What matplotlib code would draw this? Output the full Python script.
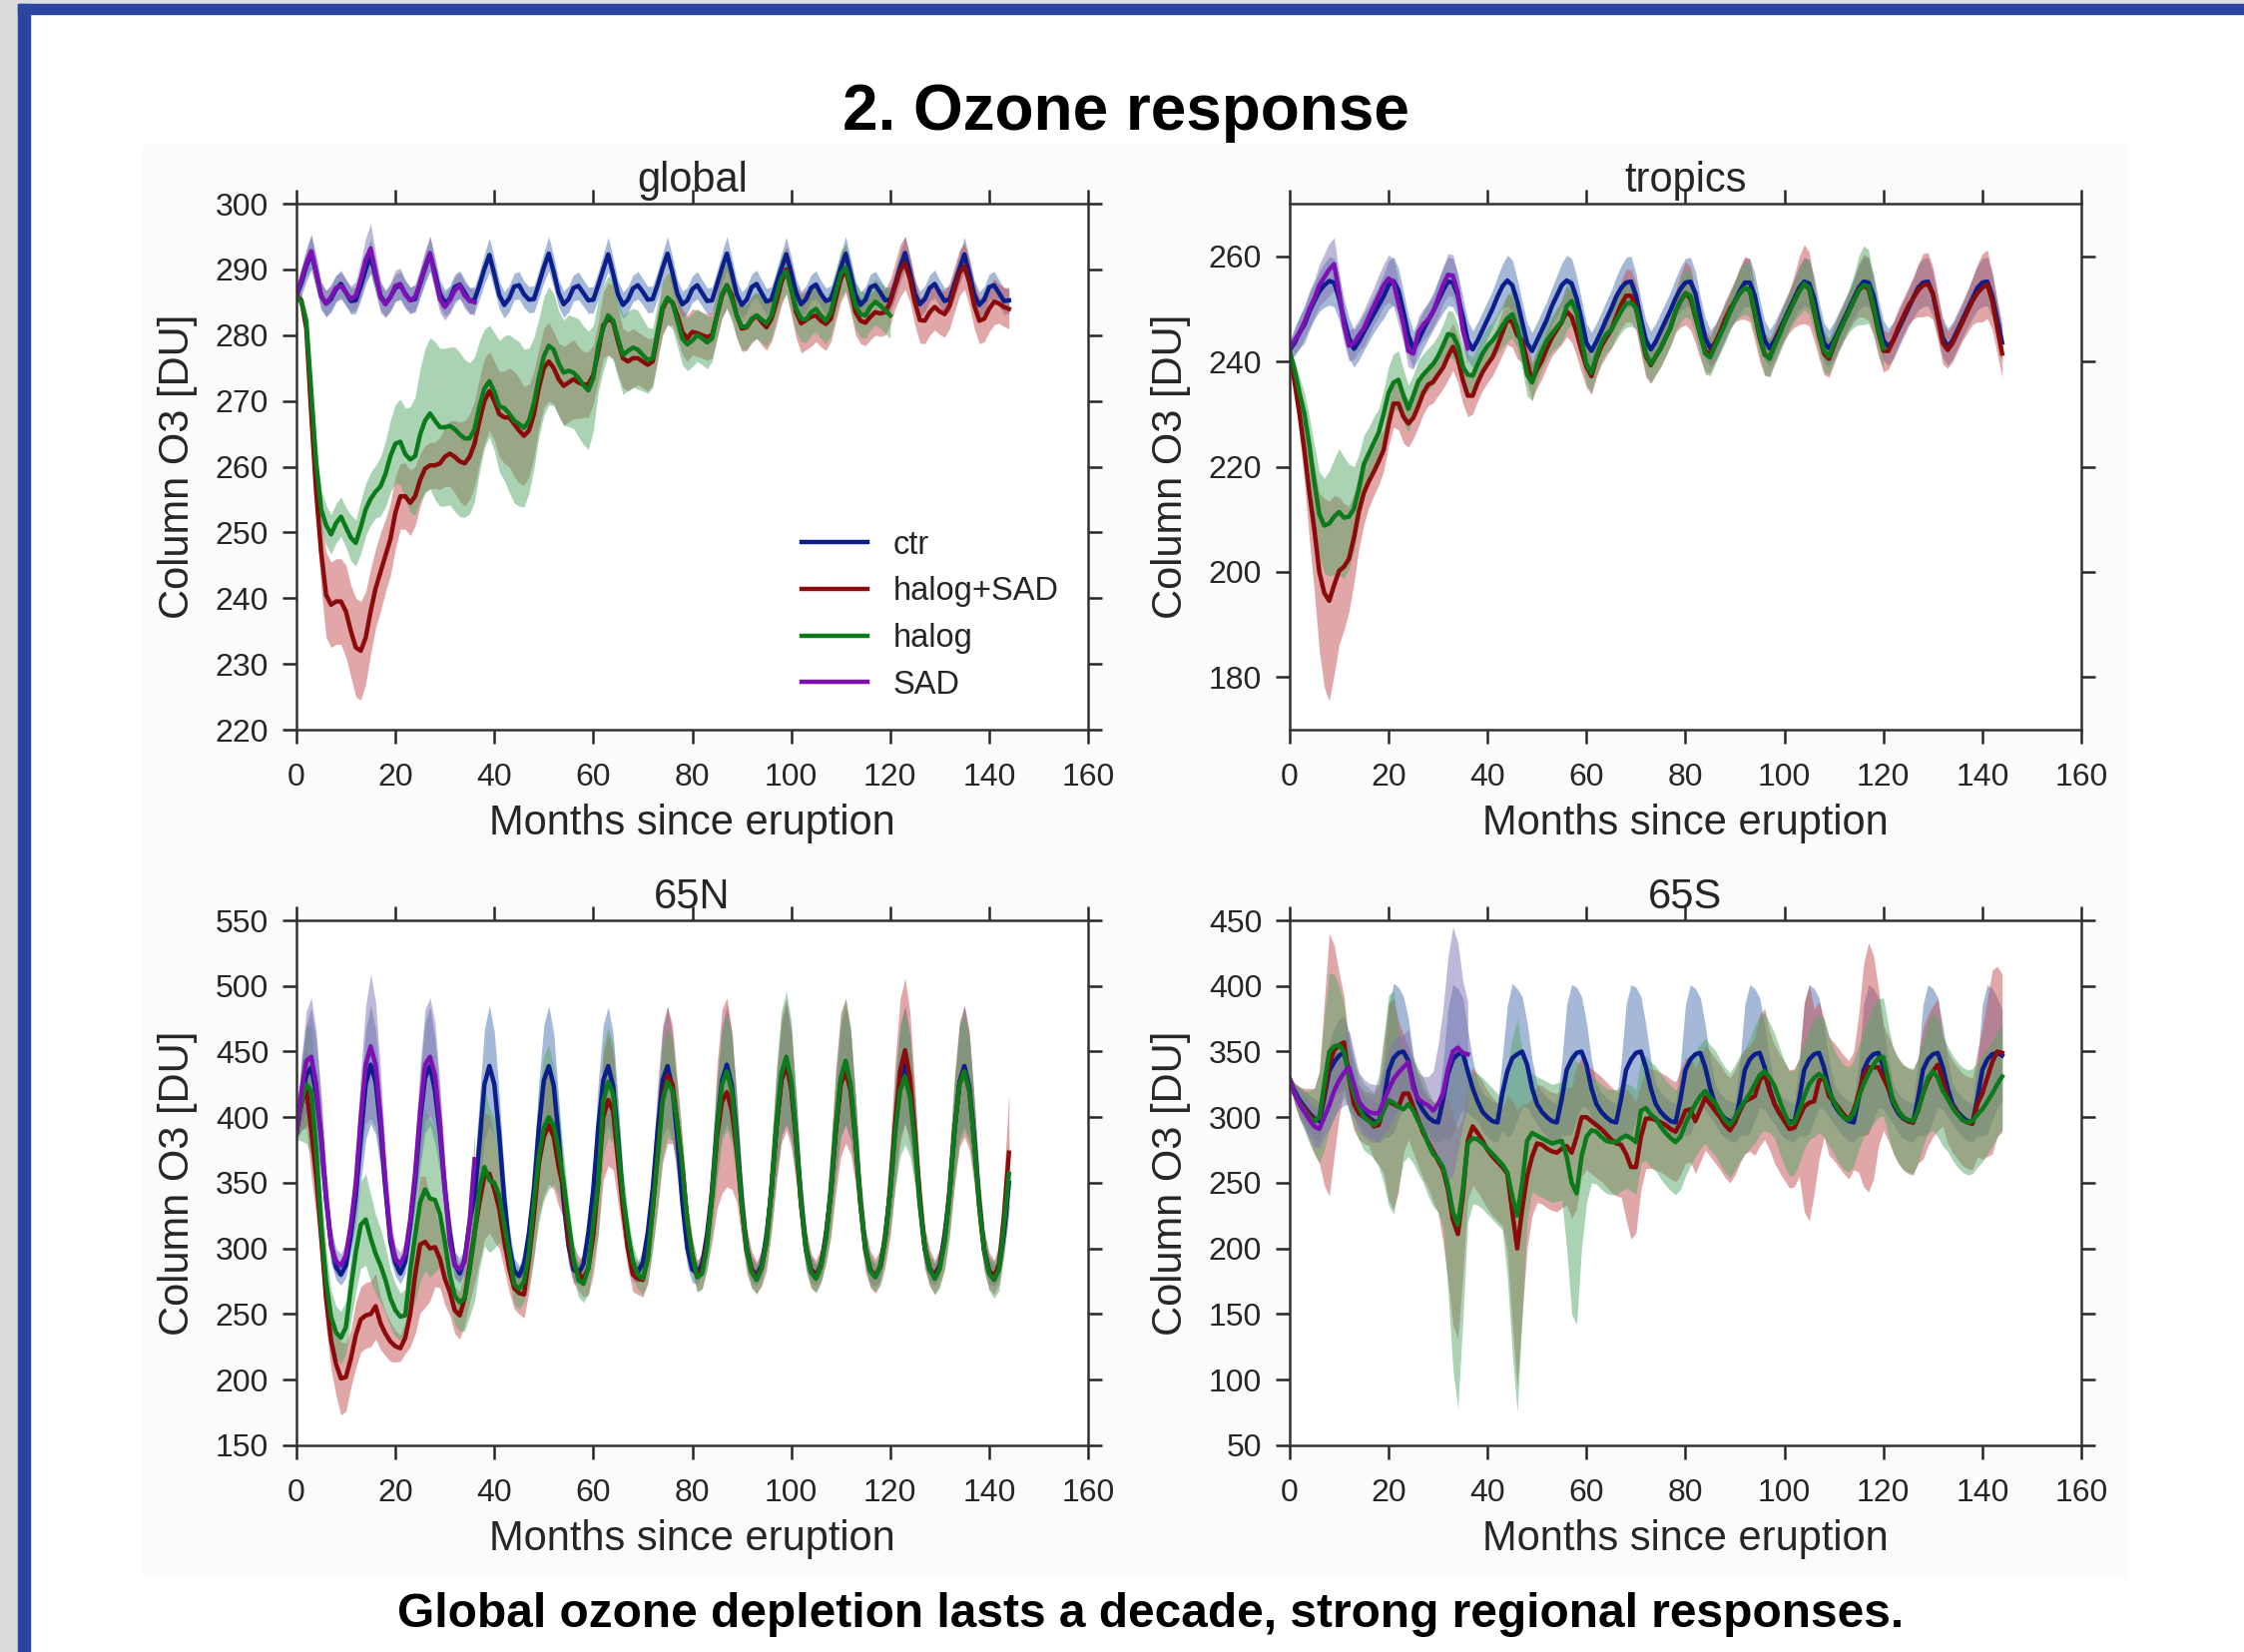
import numpy as np
import matplotlib.pyplot as plt
from matplotlib.patches import Rectangle

plt.rcParams['font.family'] = ['Liberation Sans', 'DejaVu Sans']
plt.rcParams['text.color'] = '#262626'
plt.rcParams['axes.labelcolor'] = '#262626'

# ---------------- data (monthly, month 0 = eruption) ----------------
# global
glob_ctr = [
    286, 288, 290.5, 292.5, 289.5, 286, 284.8, 285.5, 287, 287.8, 286.5, 285.2,
    285.3, 287.5, 290, 292, 289, 286, 284.8, 285.8, 287.2, 287.6, 286.3, 285.3,
    285.5, 287.8, 290.2, 292.3, 289.5, 286.3, 284.9, 285.5, 287.3, 287.7, 286.5, 285.2,
    285.4, 287.6, 290.1, 292.2, 289.3, 286.1, 284.6, 285.6, 287.4, 287.6, 286.2, 285.4,
    285.5, 287.8, 290.3, 292.4, 289.6, 286.4, 284.7, 285.5, 287.2, 287.5, 286.4, 285.3,
    285.4, 287.6, 290, 292.3, 289.4, 286.2, 284.6, 285.4, 287.1, 287.6, 286.6, 285.4,
    285.5, 287.7, 290.2, 292.4, 289.5, 286.3, 284.7, 285.3, 287, 287.6, 286.4, 285.2,
    285.3, 287.7, 290.2, 292.4, 289.4, 286.2, 284.6, 285.4, 287.3, 287.8, 286.4, 285.1,
    285.4, 287.8, 290.1, 292.3, 289.5, 286.4, 284.7, 285.5, 287.2, 287.7, 286.3, 285.2,
    285.5, 287.6, 290.2, 292.4, 289.3, 286.1, 284.6, 285.4, 287.3, 287.6, 286.5, 285.3,
    285.4, 287.7, 290.3, 292.5, 289.6, 286.3, 284.7, 285.5, 287.2, 287.8, 286.4, 285.2,
    285.5, 287.8, 290.1, 292.3, 289.4, 286.2, 284.6, 285.4, 287.3, 287.6, 286.4, 285.2,
    285.3]
glob_ctr_sd = [
    1.5, 2, 2.3, 2.6, 2.4, 2.1, 2, 2, 2, 2.1, 2, 2,
    2, 2.1, 2.3, 2.6, 2.4, 2.1, 2, 2, 2, 2.1, 2, 2,
    2, 2.1, 2.3, 2.6, 2.4, 2.1, 2, 2, 2, 2.1, 2, 2,
    2, 2.1, 2.3, 2.6, 2.4, 2.1, 2, 2, 2, 2.1, 2, 2,
    2, 2.1, 2.3, 2.6, 2.4, 2.1, 2, 2, 2, 2.1, 2, 2,
    2, 2.1, 2.3, 2.6, 2.4, 2.1, 2, 2, 2, 2.1, 2, 2,
    2, 2.1, 2.3, 2.6, 2.4, 2.1, 2, 2, 2, 2.1, 2, 2,
    2, 2.1, 2.3, 2.6, 2.4, 2.1, 2, 2, 2, 2.1, 2, 2,
    2, 2.1, 2.3, 2.6, 2.4, 2.1, 2, 2, 2, 2.1, 2, 2,
    2, 2.1, 2.3, 2.6, 2.4, 2.1, 2, 2, 2, 2.1, 2, 2,
    2, 2.1, 2.3, 2.6, 2.4, 2.1, 2, 2, 2, 2.1, 2, 2,
    2, 2.1, 2.3, 2.6, 2.4, 2.1, 2, 2, 2, 2.1, 2, 2,
    2]
glob_hs = [
    286, 285.3, 281, 268, 256, 247, 240.5, 239, 239.5, 239.5, 238, 235,
    232.5, 232, 234, 238, 241.5, 244, 246.5, 249, 253, 255.5, 255.5, 254.5,
    255.5, 258, 259.7, 260.2, 260.2, 260.5, 261.5, 262, 261.5, 260.8, 260.5, 261.5,
    263.5, 267, 270, 271.5, 270, 268, 267.5, 267.5, 266.5, 265.5, 264.7, 265.5,
    268, 272, 275, 276, 275, 273.3, 272.3, 272.8, 273.3, 272.8, 272.5, 272.5,
    274, 277.5, 281.5, 282.5, 282, 279, 276.5, 276, 276.5, 276.5, 276, 275.5,
    276, 280, 284, 285.5, 285, 283, 280.5, 279.5, 280.5, 280.3, 280, 279.7,
    280, 283, 286, 287.6, 286, 283, 281, 281.2, 282.3, 283, 282, 281.2,
    282.5, 285, 288, 290, 287, 283.5, 281.8, 282.3, 282.8, 283, 282.2, 281.7,
    282.5, 285.5, 288.5, 290, 287, 283.5, 282.2, 281.9, 282.8, 283.5, 283.3, 283.5,
    285, 287.5, 289.8, 291, 288.5, 285, 282.3, 282.2, 283.5, 284.3, 283.6, 283.2,
    284.5, 287, 289.5, 290.5, 288, 284.5, 282.2, 282.5, 284, 285.1, 284.8, 284.3,
    284]
glob_hs_sd = [
    0.5, 1, 2, 3, 4, 5.5, 6.5, 6.5, 6.5, 6.5, 7, 7,
    7.5, 7.5, 7, 6.5, 6, 6, 5.5, 5.5, 5.5, 5, 5, 5,
    4.5, 4, 3.5, 3.5, 3.5, 4, 4.5, 5, 5.5, 6, 6.5, 6.5,
    6.5, 6.5, 6.5, 6, 6, 6.5, 7, 7.5, 8, 8, 7.5, 7,
    6.5, 6, 6, 6, 5.5, 5.5, 6, 6, 6, 5.5, 5, 5,
    4.5, 4.5, 5, 5.5, 5.5, 5, 4.5, 4.5, 4.5, 4, 4, 4,
    3.5, 3.5, 4, 4, 3.5, 3.5, 3.5, 3.5, 3.5, 3.5, 3.5, 3.5,
    3.5, 3.5, 3.5, 3.5, 3.5, 3.5, 3.5, 3.5, 3.5, 3.5, 3.5, 3.5,
    3.5, 3.5, 3.5, 3.5, 4, 4, 4.5, 4.5, 4.5, 4, 4, 4,
    3.5, 3.5, 3.5, 3.5, 3.5, 3.5, 3.5, 3.5, 3.5, 3.5, 3.5, 3.5,
    3.5, 3.5, 4, 4, 3.5, 3.5, 3.5, 3.5, 3.5, 3.5, 3.5, 3.5,
    3.5, 3.5, 3.5, 3.5, 3.5, 3.5, 3.5, 3.5, 3.5, 3.5, 3, 3,
    3]
glob_h = [
    286, 285.1, 282.2, 271.4, 260.5, 253.5, 251.1, 249.7, 251.4, 252.4, 250.8, 249.2,
    248.4, 250.8, 253.5, 255.1, 256.2, 257, 258.9, 261.6, 263.5, 263.8, 261.9, 261.1,
    261.6, 264.9, 267, 268.1, 267, 266, 266, 266.2, 265.7, 264.9, 264.3, 264.3,
    265.7, 269.2, 271.9, 273, 271.4, 269.2, 268.9, 268.1, 267, 266.5, 265.9, 267,
    269.7, 273.5, 276.8, 278.4, 277.8, 275.7, 274.3, 274.6, 274.3, 273.5, 272.4, 271.6,
    273.5, 278.4, 281.1, 283, 282.2, 279.5, 277, 277.6, 278.1, 277.8, 277, 276.2,
    276.5, 280.5, 284.3, 285.7, 284.9, 282.2, 279.5, 278.6, 279.2, 280, 279.5, 278.9,
    279.5, 283, 286.3, 287.6, 285.5, 283, 281.3, 281.3, 282.5, 283, 282.4, 281.8,
    283, 286, 288.7, 289.7, 287, 284, 282.5, 282.4, 283.5, 284, 283, 282.2,
    283.5, 286.5, 289.3, 290.3, 287.5, 284.5, 283.2, 283, 284.3, 285.1, 284.5, 283.8,
    283]
glob_h_sd = [
    0.5, 1, 1.5, 2.5, 2.5, 3, 3, 3, 3, 3, 3, 3.5,
    3.5, 4, 4, 4, 4, 4.5, 5, 5.5, 6, 6.5, 7, 8,
    9, 10, 11, 11.5, 12, 12, 12, 12, 12.5, 12.5, 12, 11.5,
    11, 10, 9, 8.5, 9, 10, 11, 12, 12.5, 12.5, 12, 11,
    10, 9, 9, 9, 8.5, 8, 8, 8.5, 8.5, 9, 9, 9,
    8, 7, 6.5, 6, 6, 6, 6, 6, 6, 6, 5.5, 5,
    4.5, 4.5, 4, 4, 4, 4, 4, 4, 4, 4, 4, 4,
    3.5, 3.5, 3.5, 3.5, 3.5, 3.5, 3.5, 3.5, 3.5, 3.5, 3.5, 3.5,
    3.5, 3.5, 3.5, 3.5, 3.5, 3.5, 3.5, 3.5, 3.5, 3.5, 3.5, 3.5,
    3.5, 3.5, 3.5, 3.5, 3.5, 3.5, 3.5, 3.5, 3.5, 3.5, 3.5, 3.5,
    3.5]
glob_sad = [
    286, 288.5, 291, 292.8, 289.5, 286, 284.8, 285.8, 287.2, 287.5, 286.5, 285.5,
    286, 288.5, 291.5, 293.2, 289.5, 285.8, 284.7, 285.8, 287.5, 287.8, 286.2, 285.3,
    285.8, 288, 290.5, 292.5, 289, 285.5, 284.3, 285.3, 286.8, 287.6, 286, 285.3,
    285]
glob_sad_sd = [
    1, 1.8, 2.2, 2.6, 2.4, 2, 2, 2, 2, 2, 2, 2,
    2.2, 2.8, 3.3, 3.8, 3, 2.4, 2, 2.2, 2.4, 2.4, 2.2, 2,
    2, 2.2, 2.4, 2.6, 2.4, 2.1, 2, 2, 2, 2, 2, 2,
    2]

# tropics
trop_ctr = [
    242.2, 243.5, 245.5, 247, 249.5, 251.5, 253.3, 254.5, 255.3, 255, 252, 248,
    244.5, 242.4, 243.8, 245.6, 247.3, 249, 250.7, 252.4, 254.5, 255.3, 253.5, 249.5,
    245, 242.3, 244, 246, 247.8, 249.5, 251.5, 253.5, 255.2, 255, 252.5, 248.5,
    244, 242.3, 244, 246, 248, 250, 252.3, 254.3, 255.4, 254.5, 251.5, 247.5,
    243.5, 242, 244, 246, 248, 250.5, 252.5, 254.5, 255.4, 254.8, 252, 248,
    243.5, 242, 243.8, 245.8, 248, 250, 252.3, 254, 255, 255.2, 252.5, 248,
    244, 242.3, 243.8, 245.8, 247.8, 249.8, 252, 253.8, 255, 255.2, 253, 248.5,
    244.5, 242.5, 243.5, 245.5, 247.5, 249.5, 251.5, 253.5, 255, 255, 252.5, 248,
    244, 242.5, 244, 246, 248, 250, 252, 254, 255.2, 254.8, 252, 247.5,
    243.5, 242.5, 244, 246, 248, 250, 252, 254, 255.2, 255, 252.5, 248,
    244, 242.8, 244, 246, 248, 250, 252, 254, 255, 255.2, 252.8, 248.5,
    244.5, 242.8, 244, 246, 248, 250, 252, 254, 255, 255.2, 252.5, 248,
    243.6]
trop_ctr_sd = [
    1.5, 2.5, 3, 3.5, 3.5, 3.5, 3.8, 4.2, 4.6, 4.6, 4.2, 3.8,
    3.8, 3.5, 3.5, 3.5, 3.5, 3.5, 3.8, 4.2, 4.6, 4.6, 4.2, 3.8,
    3.8, 3.5, 3.5, 3.5, 3.5, 3.5, 3.8, 4.2, 4.6, 4.6, 4.2, 3.8,
    3.8, 3.5, 3.5, 3.5, 3.5, 3.5, 3.8, 4.2, 4.8, 4.8, 4.2, 3.8,
    3.8, 3.5, 3.5, 3.5, 3.5, 3.5, 3.8, 4.2, 4.8, 4.8, 4.2, 3.8,
    3.8, 3.5, 3.5, 3.5, 3.5, 3.5, 3.8, 4.2, 4.8, 4.8, 4.2, 3.8,
    3.8, 3.5, 3.5, 3.5, 3.5, 3.5, 3.8, 4.2, 4.6, 4.6, 4.2, 3.8,
    3.8, 3.5, 3.5, 3.5, 3.5, 3.5, 3.8, 4.2, 4.6, 4.6, 4.2, 3.8,
    3.8, 3.5, 3.5, 3.5, 3.5, 3.5, 3.8, 4.2, 4.6, 4.6, 4.2, 3.8,
    3.8, 3.5, 3.5, 3.5, 3.5, 3.5, 3.8, 4.2, 4.6, 4.6, 4.2, 3.8,
    3.8, 3.5, 3.5, 3.5, 3.5, 3.5, 3.8, 4.2, 4.6, 4.6, 4.2, 3.8,
    3.8, 3.5, 3.5, 3.5, 3.5, 3.5, 3.8, 4.2, 4.6, 4.6, 4.2, 3.8,
    3.5]
trop_hs = [
    242, 236, 230, 223, 215, 208, 200, 196, 194.5, 197.5, 200.2, 201,
    202.5, 206.5, 211.5, 215, 217.2, 219, 221, 223.2, 228, 232, 232, 229.5,
    228.2, 229.3, 231.5, 234, 235.6, 236.1, 237.5, 238.8, 241, 242.8, 240.5, 236.5,
    233.5, 233.5, 236, 238, 239.5, 240.8, 243, 245.5, 248, 247.5, 245, 244,
    240, 236.2, 238.5, 240.2, 242.5, 244.5, 246, 247.5, 249.5, 248.5, 245.5, 242,
    239, 237.2, 240.5, 242.9, 244.5, 246, 248.5, 250.8, 252.5, 252.5, 250.5, 245.5,
    241, 239.3, 241, 242.5, 244.5, 246.5, 249.5, 251.5, 253, 252, 248.5, 245,
    242, 241.3, 243.5, 245.5, 248, 250, 251.5, 253, 254, 253.5, 249, 244.5,
    241.3, 240.8, 243, 245.5, 247.5, 249.5, 251.5, 253.5, 254.7, 253.8, 249.5, 245,
    241.5, 240.5, 243, 245.5, 247.5, 249.5, 251.5, 253.5, 254.4, 253.8, 250, 245.5,
    242, 242, 244, 246.5, 248.5, 250.5, 252, 253.5, 254.5, 254.7, 253, 248.5,
    243.5, 242.2, 243.5, 245.5, 247.5, 249.5, 251.5, 253, 254, 254.7, 251.5, 246.5,
    241.5]
trop_hs_sd = [
    0.5, 2, 4, 6, 9, 12, 15, 18, 19, 17, 14, 12,
    10, 8.5, 7, 6, 5, 4.5, 4.5, 4, 4, 4.5, 5, 5,
    4.5, 4, 4, 4, 4, 4, 4, 4, 4.5, 4.5, 4.5, 4.5,
    4, 3.5, 3.5, 3.5, 3.5, 3.5, 3.8, 4.2, 4.8, 4.8, 4.5, 4.2,
    4, 3.5, 3.5, 3.5, 3.5, 3.5, 3.8, 4.2, 4.8, 4.8, 4.5, 4.2,
    4, 3.5, 3.5, 3.5, 3.5, 3.5, 3.8, 4.5, 5, 5, 4.5, 4.2,
    4, 3.5, 3.5, 3.5, 3.5, 3.5, 4, 5, 6, 6, 5, 4.5,
    4, 3.5, 3.5, 3.5, 3.5, 3.5, 4, 5, 6, 6, 5, 4.5,
    4, 3.5, 3.5, 3.5, 3.5, 4, 5, 6.5, 7.5, 7, 5.5, 4.5,
    4, 3.5, 3.5, 3.5, 3.5, 3.5, 4, 5, 6, 6, 5, 4.5,
    4, 3.5, 3.5, 3.5, 3.5, 3.5, 4, 5, 6, 6, 5, 4.5,
    4, 3.5, 3.5, 3.5, 3.5, 4, 4.5, 5.5, 6.5, 6.5, 5.5, 5,
    4.5]
trop_h = [
    242, 238.5, 234, 230, 224, 217, 211, 208.8, 209.2, 210.5, 211.4, 210.3,
    210.5, 212, 215.8, 220.5, 222.5, 224.5, 226.5, 230, 234, 236, 236.5, 233.5,
    231, 233.5, 236.2, 237.5, 238.5, 239.5, 241, 243, 245.2, 245, 243, 239,
    237.5, 237.3, 239.5, 241.5, 243, 244, 245.3, 246.8, 248.2, 249, 246.5, 242.5,
    237.5, 236, 239.5, 242, 244, 245.3, 246.5, 247.6, 250.5, 251.5, 249.3, 244,
    239.5, 237.8, 241, 243.5, 245.2, 246, 247.8, 249.5, 251, 251.2, 250.2, 246,
    241.5, 239.5, 241, 242.5, 244.5, 246.5, 249.5, 251.5, 253, 252.5, 249, 245,
    241.5, 240.8, 243, 245, 247, 249.5, 251.5, 253, 254, 253.5, 249.5, 245,
    241.5, 240.5, 243, 245, 247.5, 249.5, 251.5, 253.3, 254.8, 254, 250, 245.5,
    242, 241, 243.5, 245.5, 247.5, 249.5, 251.5, 253.5, 254.5, 254.3, 250.5, 246,
    242.5]
trop_h_sd = [
    0.5, 1.5, 3, 4, 5.5, 7, 8, 9, 10, 11, 12, 11.5,
    10, 8, 6.5, 5.5, 5, 5, 4.5, 4.5, 5, 5.5, 5.5, 5,
    4.5, 4, 4, 4, 4, 4, 4, 4, 4.5, 4.5, 4, 4,
    4, 3.5, 3.5, 3.5, 3.5, 3.5, 3.8, 4, 4.5, 4.5, 4, 4,
    4, 3.5, 3.5, 3.5, 3.5, 3.5, 3.8, 4, 4.5, 4.5, 4, 4,
    4, 3.5, 3.5, 3.5, 3.5, 3.5, 3.8, 4, 4.5, 4.5, 4, 4,
    4, 3.5, 3.5, 3.5, 3.5, 3.5, 3.8, 4, 4.5, 4.5, 4, 4,
    4, 3.5, 3.5, 3.5, 3.5, 3.5, 3.8, 4.5, 5, 5, 4.5, 4,
    4, 3.5, 3.5, 3.5, 3.5, 3.5, 3.8, 4.5, 5, 5, 4.5, 4,
    4, 3.5, 3.5, 3.5, 3.5, 4, 5, 6.5, 7.5, 7, 5.5, 4.5,
    4]
trop_sad = [
    242.5, 244, 245.5, 247.5, 250, 252, 254.5, 256, 257.5, 258.5, 253, 247,
    243, 243.5, 245, 246.3, 248.5, 250.5, 252.5, 254.5, 255.8, 255, 251, 247,
    242, 241.5, 245.5, 247, 248, 249.5, 252, 254.5, 256.5, 256.3, 253, 246,
    242.5]
trop_sad_sd = [
    1.5, 2.5, 3, 3, 3.5, 3.5, 4, 4.5, 5, 5, 4, 3.5,
    3, 3, 3, 3.5, 3.5, 3.5, 4, 4, 4.5, 4.5, 4, 3.5,
    3, 3, 3, 3, 3, 3, 3.5, 3.5, 4, 4, 3.5, 3,
    3]

# 65N
n65_ctr = [
    388, 415, 432, 438, 418, 385, 337, 304, 286, 280, 287, 310,
    340, 385, 425, 440, 427, 392, 345, 305, 289, 281, 290, 318,
    352, 397, 430, 439, 420, 388, 345, 312, 288, 281, 292, 320,
    340, 380, 425, 439, 425, 386, 338, 302, 283, 279, 288, 312,
    345, 392, 428, 439, 424, 385, 336, 302, 284, 281, 288, 312,
    345, 392, 428, 439, 424, 384, 336, 301, 285, 282, 289, 312,
    345, 390, 428, 439, 422, 383, 335, 300, 284, 281, 288, 311,
    344, 392, 428, 440, 424, 385, 336, 300, 284, 280, 287, 310,
    344, 392, 428, 440, 424, 385, 336, 300, 284, 280, 287, 310,
    343, 390, 427, 439, 423, 384, 335, 300, 283, 279, 286, 309,
    344, 391, 428, 440, 424, 385, 336, 300, 284, 280, 287, 310,
    343, 390, 427, 439, 423, 384, 335, 299, 283, 279, 286, 312,
    350]
n65_ctr_sd = [
    5, 25, 38, 45, 40, 30, 20, 14, 10, 8, 9, 13,
    22, 35, 42, 45, 40, 30, 20, 14, 10, 8, 9, 13,
    22, 35, 42, 45, 40, 30, 20, 14, 10, 8, 9, 13,
    22, 35, 42, 46, 40, 30, 20, 14, 10, 8, 9, 13,
    22, 35, 42, 46, 40, 30, 20, 14, 10, 8, 9, 13,
    22, 35, 42, 45, 40, 30, 20, 14, 10, 8, 9, 13,
    22, 35, 42, 46, 40, 30, 20, 14, 10, 8, 9, 13,
    22, 35, 42, 45, 40, 30, 20, 14, 10, 8, 9, 13,
    22, 35, 42, 46, 40, 30, 20, 14, 10, 8, 9, 13,
    22, 35, 42, 45, 40, 30, 20, 14, 10, 8, 9, 13,
    22, 35, 42, 45, 40, 30, 20, 14, 10, 8, 9, 13,
    22, 35, 42, 46, 40, 30, 20, 14, 10, 8, 9, 13,
    20]
n65_hs = [
    388, 410, 422, 390, 355, 310, 262, 230, 212, 201, 202, 216,
    234, 246, 249, 250, 256, 243, 235, 229, 225.5, 224, 232, 250,
    280, 303, 305, 300, 301, 292, 277, 267, 253, 249, 262, 287,
    312, 335, 355, 357, 345, 330, 306, 285, 270, 266, 265, 292,
    325, 365, 385, 394, 385, 362, 345, 305, 288, 281, 277, 285,
    310, 350, 400, 413, 405, 367, 330, 300, 280, 277, 276, 293,
    330, 372, 415, 432, 425, 395, 362, 320, 295, 279, 283, 305,
    340, 385, 412, 419, 405, 375, 332, 298, 284, 278, 285, 305,
    345, 392, 428, 440, 422, 382, 333, 299, 283, 279, 287, 308,
    343, 390, 425, 435, 420, 382, 334, 298, 284, 279, 286, 308,
    345, 395, 435, 451, 430, 386, 336, 300, 285, 278, 286, 306,
    342, 390, 425, 435, 420, 380, 333, 298, 283, 278, 288, 325,
    373]
n65_hs_sd = [
    5, 20, 30, 35, 30, 25, 22, 22, 24, 28, 26, 22,
    25, 25, 25, 25, 25, 20, 17, 15, 12, 10, 12, 25,
    45, 52, 50, 40, 30, 22, 20, 18, 18, 18, 20, 28,
    38, 45, 48, 45, 40, 30, 22, 18, 16, 16, 18, 25,
    32, 40, 45, 45, 40, 30, 22, 16, 14, 13, 14, 20,
    30, 40, 48, 50, 45, 32, 22, 16, 13, 12, 13, 20,
    30, 42, 50, 52, 45, 32, 22, 16, 13, 12, 13, 20,
    35, 55, 70, 72, 60, 40, 25, 17, 14, 12, 14, 22,
    32, 42, 48, 50, 45, 32, 22, 16, 13, 12, 13, 20,
    35, 48, 55, 55, 48, 34, 22, 16, 14, 13, 14, 22,
    35, 48, 55, 55, 50, 36, 24, 16, 14, 13, 14, 22,
    32, 42, 48, 50, 45, 32, 22, 16, 14, 13, 15, 30,
    45]
n65_h = [
    388, 412, 425, 420, 375, 318, 275, 248, 236, 232, 240, 270,
    297, 318, 322, 308, 296, 287, 276, 262, 253, 248, 249, 283,
    310, 335, 345, 338, 337, 326, 305, 280, 264, 259, 262, 283,
    310, 345, 362, 352, 350, 340, 318, 297, 273, 269, 275, 297,
    335, 370, 392, 400, 394, 375, 350, 320, 292, 276, 273, 285,
    320, 350, 412, 427, 418, 378, 340, 312, 290, 280, 277, 292,
    330, 370, 412, 427, 420, 395, 362, 320, 295, 278, 281, 302,
    342, 390, 425, 435, 420, 380, 333, 298, 282, 276, 285, 306,
    345, 395, 433, 446, 428, 385, 334, 298, 282, 277, 286, 307,
    344, 393, 430, 443, 425, 384, 334, 299, 283, 278, 286, 309,
    343, 388, 420, 431, 415, 380, 333, 300, 284, 277, 284, 305,
    342, 390, 425, 435, 420, 380, 332, 298, 281, 276, 284, 318,
    357]
n65_h_sd = [
    5, 30, 45, 50, 40, 30, 25, 20, 20, 20, 20, 25,
    30, 33, 35, 33, 30, 28, 25, 22, 20, 18, 20, 35,
    50, 60, 62, 60, 55, 40, 25, 22, 22, 22, 25, 35,
    50, 60, 60, 55, 50, 35, 22, 18, 16, 15, 16, 25,
    40, 50, 55, 55, 45, 35, 22, 16, 14, 13, 14, 20,
    30, 38, 42, 42, 38, 30, 20, 14, 12, 11, 12, 18,
    30, 38, 42, 42, 38, 30, 20, 14, 12, 11, 12, 18,
    30, 38, 42, 45, 40, 30, 20, 14, 12, 11, 12, 18,
    32, 42, 48, 50, 45, 32, 20, 14, 12, 11, 12, 18,
    32, 40, 45, 48, 42, 32, 20, 14, 12, 11, 12, 18,
    32, 42, 50, 52, 45, 32, 20, 14, 12, 12, 14, 20,
    32, 40, 45, 45, 40, 30, 20, 14, 13, 14, 16, 22,
    28]
n65_sad = [
    388, 420, 443, 446, 425, 385, 340, 302, 290, 287, 295, 318,
    350, 400, 440, 454, 440, 400, 350, 310, 292, 288, 296, 322,
    358, 405, 440, 446, 432, 395, 345, 305, 287, 284, 290, 320,
    368]
n65_sad_sd = [
    5, 25, 38, 45, 40, 30, 20, 14, 10, 9, 10, 14,
    22, 35, 45, 55, 48, 35, 22, 14, 10, 9, 10, 14,
    22, 35, 42, 45, 40, 30, 20, 14, 10, 9, 10, 14,
    20]

# 65S
s65_ctr = [
    329, 320, 313, 308, 303, 299, 297, 315, 335, 342, 347, 349,
    335, 322, 310, 303, 300, 297, 296, 312, 335, 345, 349, 350,
    343, 325, 312, 305, 300, 297, 296, 313, 333, 344, 348, 349,
    335, 322, 312, 304, 300, 297, 296, 318, 335, 345, 348, 350,
    340, 322, 310, 304, 300, 297, 296, 314, 336, 344, 349, 350,
    340, 322, 310, 304, 300, 297, 296, 314, 336, 344, 349, 350,
    338, 322, 310, 304, 300, 297, 296, 314, 336, 344, 348, 349,
    338, 322, 310, 303, 299, 297, 296, 314, 336, 344, 348, 349,
    338, 322, 310, 303, 299, 297, 296, 314, 336, 344, 348, 349,
    338, 322, 310, 304, 300, 297, 296, 314, 336, 344, 348, 349,
    338, 322, 310, 303, 299, 297, 296, 314, 336, 344, 348, 349,
    338, 322, 310, 304, 300, 297, 296, 314, 336, 344, 348, 349,
    347]
s65_ctr_sd = [
    3, 6, 10, 12, 14, 15, 15, 18, 22, 26, 28, 28,
    30, 22, 15, 15, 15, 15, 15, 28, 50, 57, 50, 42,
    32, 22, 15, 15, 15, 15, 15, 28, 50, 57, 50, 42,
    32, 22, 15, 15, 15, 15, 15, 28, 50, 57, 50, 42,
    32, 22, 15, 15, 15, 15, 15, 28, 50, 57, 50, 42,
    32, 22, 15, 15, 15, 15, 15, 28, 50, 57, 50, 42,
    32, 22, 15, 15, 15, 15, 15, 28, 50, 57, 50, 42,
    32, 22, 15, 15, 15, 15, 15, 28, 50, 57, 50, 42,
    32, 22, 15, 15, 15, 15, 15, 28, 50, 57, 50, 42,
    32, 22, 15, 15, 15, 15, 15, 28, 50, 57, 50, 42,
    32, 22, 15, 15, 15, 15, 15, 28, 50, 57, 50, 42,
    32, 22, 15, 15, 15, 15, 15, 28, 50, 57, 50, 42,
    35]
s65_hs = [
    329, 318, 311, 307, 302, 297, 300, 318, 340, 351, 355, 357,
    330, 310, 303, 300, 298.5, 293, 294, 307, 312, 310, 308, 318,
    318, 308, 298, 288, 281, 274, 267, 260, 245, 222, 211, 240,
    282, 293, 288, 282, 275, 270, 266, 262, 257, 228, 200, 230,
    255, 270, 280, 279, 276, 274, 273, 276, 278, 273, 285, 300,
    300, 297, 294, 291, 287, 283, 280, 279, 272, 262, 262, 285,
    299, 299, 298, 296, 294, 291, 289, 296, 305, 306, 297, 306,
    315, 310, 305, 300, 294, 290, 296, 305, 312, 314, 316, 328,
    333, 320, 310, 303, 297, 291, 292, 300, 308, 311, 312, 328,
    330, 316, 312, 307, 302, 298, 305, 318, 332, 338, 338, 338,
    330, 322, 313, 305, 300, 297, 296, 305, 318, 328, 335, 340,
    328, 315, 308, 303, 298, 296, 295, 310, 318, 330, 342, 350,
    349]
s65_hs_sd = [
    3, 8, 12, 15, 20, 25, 35, 70, 100, 80, 55, 35,
    25, 20, 20, 20, 20, 25, 30, 50, 75, 80, 65, 45,
    35, 35, 35, 35, 35, 38, 40, 55, 70, 80, 80, 60,
    45, 45, 45, 45, 45, 45, 45, 45, 60, 85, 105, 80,
    55, 45, 45, 45, 45, 45, 45, 45, 45, 50, 55, 45,
    40, 40, 40, 40, 40, 40, 40, 40, 50, 55, 50, 40,
    38, 38, 38, 38, 38, 38, 38, 40, 40, 40, 40, 40,
    40, 40, 40, 40, 40, 40, 40, 40, 40, 40, 45, 50,
    50, 45, 45, 45, 45, 45, 45, 45, 80, 90, 70, 60,
    45, 45, 45, 45, 45, 45, 45, 60, 85, 95, 85, 60,
    40, 40, 40, 40, 40, 40, 40, 40, 50, 50, 50, 50,
    35, 35, 35, 35, 35, 35, 35, 40, 50, 60, 70, 65,
    60]
s65_h = [
    329, 318, 311, 305, 300, 297, 300, 325, 350, 354, 355, 350,
    330, 318, 308, 300, 297, 294, 297, 305, 313, 311, 308, 306,
    310, 305, 297, 290, 280, 272, 268, 262, 248, 228, 218, 245,
    280, 284, 283, 280, 276, 272, 268, 264, 258, 240, 225, 250,
    282, 288, 286, 284, 282, 280, 281, 282, 270, 250, 242, 270,
    285, 290, 289, 285, 282, 281, 281, 284, 286, 284, 281, 305,
    307, 302, 299, 293, 288, 284, 281, 285, 295, 303, 310, 316,
    320, 315, 311, 304, 298, 294, 300, 307, 312, 318, 325, 332,
    335, 330, 324, 313, 303, 295, 296, 305, 316, 325, 330, 333,
    330, 320, 312, 305, 300, 298, 303, 315, 325, 333, 340, 345,
    346, 328, 312, 305, 300, 298, 297, 305, 318, 330, 335, 330,
    320, 314, 307, 302, 298, 296, 297, 302, 306, 312, 318, 325,
    331]
s65_h_sd = [
    3, 8, 12, 15, 20, 25, 35, 50, 60, 55, 45, 35,
    25, 25, 25, 25, 25, 25, 35, 55, 80, 85, 60, 40,
    40, 40, 40, 40, 40, 40, 40, 45, 80, 120, 140, 100,
    60, 50, 50, 50, 50, 50, 50, 50, 80, 120, 150, 100,
    60, 45, 45, 45, 45, 45, 45, 45, 70, 100, 100, 70,
    50, 40, 40, 40, 40, 40, 40, 40, 40, 40, 40, 40,
    40, 40, 40, 40, 40, 40, 40, 40, 40, 40, 40, 40,
    40, 40, 40, 40, 40, 40, 40, 40, 40, 42, 45, 45,
    45, 42, 40, 40, 40, 40, 40, 40, 40, 42, 45, 45,
    45, 42, 40, 40, 40, 40, 40, 40, 40, 42, 45, 45,
    45, 42, 40, 40, 40, 40, 40, 40, 40, 42, 45, 45,
    42, 40, 40, 40, 40, 40, 40, 40, 40, 40, 40, 40,
    40]
s65_sad = [
    329, 318, 310, 304, 298, 293, 291, 300, 309, 320, 328, 334,
    338, 325, 312, 307, 304, 303, 303, 312, 321, 329, 334, 338,
    342, 322, 314, 311, 309, 305, 310, 318, 337, 350, 353, 349,
    348]
s65_sad_sd = [
    3, 6, 10, 12, 14, 15, 15, 15, 18, 20, 22, 25,
    28, 25, 22, 22, 22, 22, 22, 25, 30, 30, 28, 25,
    25, 22, 20, 20, 22, 30, 45, 65, 85, 95, 80, 55,
    40]

runs = ['ctr', 'halog+SAD', 'halog', 'SAD']
line_cols = ['#0b1f8c', '#8b0a0a', '#0b7a1b', '#7d10b5']
band_cols = ['#4c72b0', '#c44e52', '#55a868', '#8172b2']

panels = [
    ('global', (220, 300), range(220, 301, 10),
     [(glob_ctr, glob_ctr_sd), (glob_hs, glob_hs_sd), (glob_h, glob_h_sd), (glob_sad, glob_sad_sd)]),
    ('tropics', (170, 270), range(180, 261, 20),
     [(trop_ctr, trop_ctr_sd), (trop_hs, trop_hs_sd), (trop_h, trop_h_sd), (trop_sad, trop_sad_sd)]),
    ('65N', (150, 550), range(150, 551, 50),
     [(n65_ctr, n65_ctr_sd), (n65_hs, n65_hs_sd), (n65_h, n65_h_sd), (n65_sad, n65_sad_sd)]),
    ('65S', (50, 450), range(50, 451, 50),
     [(s65_ctr, s65_ctr_sd), (s65_hs, s65_hs_sd), (s65_h, s65_h_sd), (s65_sad, s65_sad_sd)]),
]

# axes boxes in figure fractions (left, bottom, width, height)
boxes = [(0.1321, 0.5583, 0.3528, 0.3184), (0.5747, 0.5583, 0.3528, 0.3184),
         (0.1321, 0.1251, 0.3528, 0.3178), (0.5747, 0.1251, 0.3528, 0.3178)]

fig = plt.figure(figsize=(22.48, 16.55), dpi=100)

# slide frame
fig.patches.append(Rectangle((143 / 2248, 1 - 1580 / 1655), (2130 - 143) / 2248, (1580 - 145) / 1655,
                             transform=fig.transFigure, color='#fbfbfb', zorder=-3))
fig.patches.append(Rectangle((0, 0), 18 / 2248, 1, transform=fig.transFigure, color='#dcdcdc', zorder=-2))
fig.patches.append(Rectangle((0, 1 - 4 / 1655), 1, 4 / 1655, transform=fig.transFigure, color='#dcdcdc', zorder=-2))
fig.patches.append(Rectangle((18 / 2248, 0), 12 / 2248, 1 - 4 / 1655, transform=fig.transFigure,
                             color='#2a46a0', zorder=-1))
fig.patches.append(Rectangle((18 / 2248, 1 - 14 / 1655), 1, 10 / 1655, transform=fig.transFigure,
                             color='#2a46a0', zorder=-1))

for (title, ylim, yt, series), box in zip(panels, boxes):
    ax = fig.add_axes(box)
    for (vals, sd), lc, bc, lab in zip(series, line_cols, band_cols, runs):
        v = np.array(vals, dtype=float)
        s = np.array(sd, dtype=float)
        n = min(len(v), len(s))
        x = np.arange(n)
        ax.fill_between(x, v[:n] - s[:n], v[:n] + s[:n], color=bc, alpha=0.5, lw=0)
        ax.plot(np.arange(len(v)), v, color=lc, lw=3.2, label=lab)
    ax.set_xlim(0, 160)
    ax.set_ylim(*ylim)
    ax.set_xticks(range(0, 161, 20))
    ax.set_yticks(list(yt))
    ax.tick_params(direction='out', length=10, width=1.8, labelsize=23,
                   colors='#262626', top=True, right=True)
    ax.tick_params(axis='x', pad=14)
    ax.tick_params(axis='y', pad=10)
    for sp in ax.spines.values():
        sp.set_linewidth(1.8)
        sp.set_color('#333333')
    ax.set_title(title, fontsize=30, pad=9, color='#262626')
    ax.set_xlabel('Months since eruption', fontsize=30, labelpad=8)
    ax.set_ylabel('Column O3 [DU]', fontsize=30, labelpad=13)
    if title == 'global':
        ax.legend(loc='lower right', frameon=False, fontsize=23.5, labelspacing=0.48,
                  handlelength=2.0, handletextpad=0.8)

fig.text(1128 / 2248, 1 - 113 / 1655, '2. Ozone response', ha='center', va='center',
         fontsize=46, fontweight='bold', color='black')
fig.text(1153 / 2248, 1 - 1617 / 1655, 'Global ozone depletion lasts a decade, strong regional responses.',
         ha='center', va='center', fontsize=34.5, fontweight='bold', color='black')

fig.savefig('out.png', dpi=100)
